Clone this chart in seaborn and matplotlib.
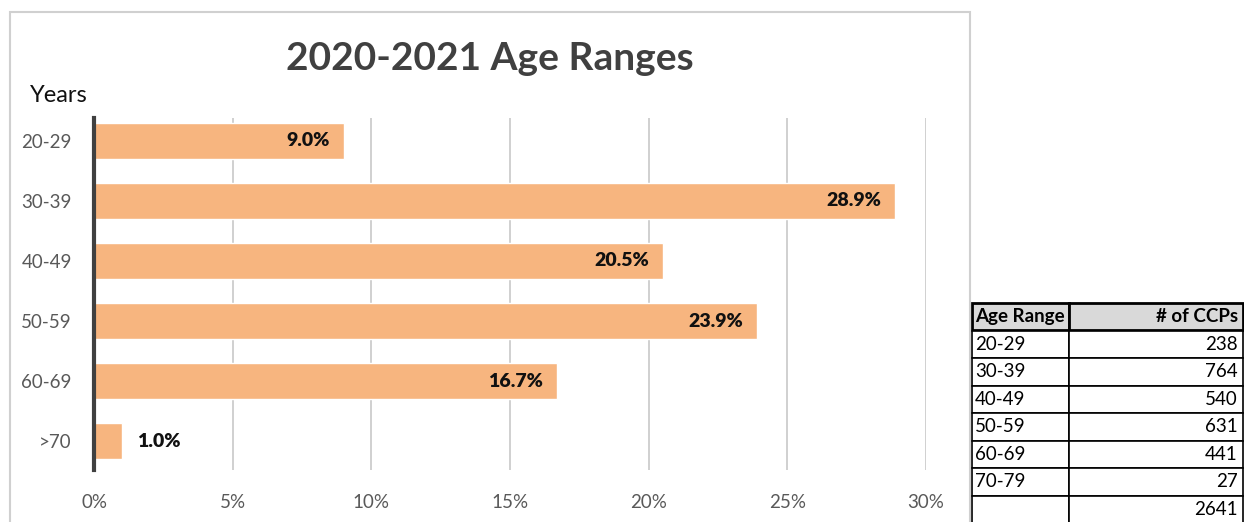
import matplotlib.pyplot as plt
import matplotlib.patches as mpatches
import pandas as pd
import seaborn as sns

sns.set_theme(style="white")
plt.rcParams['font.family'] = ['Lato', 'DejaVu Sans']

# chart data (percent of CCPs)
age_labels = ["20-29", "30-39", "40-49", "50-59", "60-69", ">70"]
pct_values = [9.0, 28.9, 20.5, 23.9, 16.7, 1.0]

# side table data
table_ranges = ["20-29", "30-39", "40-49", "50-59", "60-69", "70-79"]
table_counts = [238, 764, 540, 631, 441, 27]

df = pd.DataFrame({"age": age_labels, "pct": pct_values})

fig = plt.figure(figsize=(12.44, 5.22), dpi=100)
ax = fig.add_axes([94 / 1244, 1 - 470 / 522, (926 - 94) / 1244, (470 - 118) / 522])

sns.barplot(data=df, x="pct", y="age", orient="h", color="#F7B57F",
            saturation=1, width=0.6, ax=ax, zorder=2)

ax.set_xlim(0, 30)
ax.set_ylim(5.48, -0.38)
ax.set_xticks(range(0, 31, 5))
ax.set_xticklabels([f"{t}%" for t in range(0, 31, 5)], color="#595959", fontsize=13.5)
ax.tick_params(axis="y", labelsize=13.5, labelcolor="#595959", pad=16, length=0)
ax.tick_params(axis="x", pad=17, length=0)
ax.set_xlabel("")
ax.set_ylabel("")
ax.grid(axis="x", color="#c8c8c8", linewidth=1.2, zorder=0)
for s in ["top", "right", "bottom"]:
    ax.spines[s].set_visible(False)
ax.spines["left"].set_color("#404040")
ax.spines["left"].set_linewidth(3)
ax.spines["left"].set_zorder(3)

for i, v in enumerate(pct_values):
    if v > 3:
        ax.text(v - 0.5, i, f"{v:.1f}%", ha="right", va="center",
                fontsize=14, fontweight="heavy", color="#111111", zorder=4)
    else:
        ax.text(v + 0.55, i, f"{v:.1f}%", ha="left", va="center",
                fontsize=14, fontweight="heavy", color="#111111", zorder=4)

# chart frame
fig.patches.append(mpatches.Rectangle((10 / 1244, -0.05), 960 / 1244, 1.05 - 12 / 522,
                                      transform=fig.transFigure, fill=False,
                                      edgecolor="#d0d0d0", linewidth=1.5))

fig.text(490 / 1244, 1 - 58 / 522, "2020-2021 Age Ranges", ha="center", va="center",
         fontsize=28, fontweight="bold", color="#404040")
fig.text(30 / 1244, 1 - 95 / 522, "Years", ha="left", va="center",
         fontsize=17, color="#111111")

# side table
tax = fig.add_axes([972 / 1244, 0, (1243 - 972) / 1244, 1 - 303 / 522])
tax.axis("off")
rows = [["Age Range", "# of CCPs"]]
rows += [[r, str(c)] for r, c in zip(table_ranges, table_counts)]
rows += [["", str(sum(table_counts))]]
n = len(rows)
tbl = tax.table(cellText=rows, bbox=[0, 1 - n * 27.5 / 219, 1, n * 27.5 / 219],
                colWidths=[97, 174], cellLoc="left")
tbl.auto_set_font_size(False)
for (r, c), cell in tbl.get_celld().items():
    cell.set_edgecolor("#000000")
    cell.set_linewidth(1.2)
    cell.get_text().set_fontsize(13.5)
    cell.get_text().set_color("#000000")
    if c == 1:
        cell.get_text().set_horizontalalignment("right")
        cell._loc = "right"
    cell.PAD = 0.03
    if r == 0:
        cell.set_facecolor("#d9d9d9")
        cell.get_text().set_fontweight("bold")
        cell.set_linewidth(2)

fig.savefig("out.png", dpi=100)
